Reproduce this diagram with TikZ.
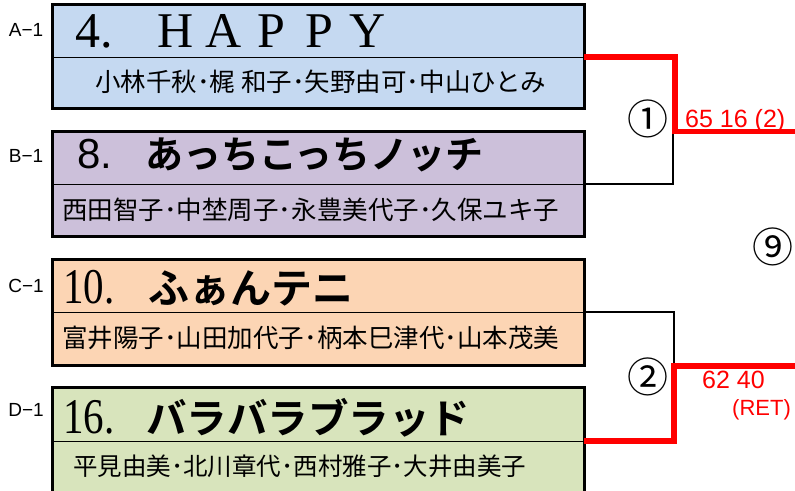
\documentclass[tikz,border=0pt]{standalone}
\usepackage{fontspec}
\setmainfont{Liberation Sans}
\newfontfamily\sansx{Liberation Sans}
\newfontfamily\jp{Noto Sans CJK JP}
\newfontfamily\jpb{Noto Sans CJK JP Bold}
\newfontfamily\serifx{Liberation Serif}
\definecolor{cA}{HTML}{C5D9F1}
\definecolor{cB}{HTML}{CCC0DA}
\definecolor{cC}{HTML}{FCD5B4}
\definecolor{cD}{HTML}{D8E4BC}
\definecolor{redx}{HTML}{FF0000}
\begin{document}
\begin{tikzpicture}[x=1pt,y=-1pt,
  half/.style={draw=black, line width=0.9pt, minimum width=532pt, inner sep=0pt, outer sep=0pt, anchor=north west},
  frame/.style={draw=black, line width=3pt},
  lbl/.style={font=\sansx\fontsize{19}{19}\selectfont, inner sep=0pt},
  names/.style={font=\jp\fontsize{25.5}{26}\selectfont, inner sep=0pt, anchor=west},
  ttl/.style={inner sep=0pt, anchor=base west},
  win/.style={draw=redx, line width=5.5pt},
  lose/.style={draw=black, line width=2pt},
  score/.style={text=redx, font=\sansx\fontsize{25}{25}\selectfont, inner sep=0pt, anchor=base west},
  circ/.style={font=\jp\fontsize{41}{41}\selectfont, inner sep=0pt}]
\useasboundingbox (0,0) rectangle (795,490);
% boxes
\node[half, fill=cA, minimum height=53pt] (Atop) at (52,4) {};
\node[half, fill=cA, minimum height=51pt] (Abot) at (52,57) {};
\node[half, fill=cB, minimum height=53pt] (Btop) at (52,131) {};
\node[half, fill=cB, minimum height=52pt] (Bbot) at (52,184) {};
\node[half, fill=cC, minimum height=53pt] (Ctop) at (52,259) {};
\node[half, fill=cC, minimum height=53pt] (Cbot) at (52,312) {};
\node[half, fill=cD, minimum height=54pt] (Dtop) at (52,387) {};
\node[half, fill=cD, minimum height=54pt] (Dbot) at (52,441) {};
\draw[frame] (Atop.north west) rectangle (Abot.south east);
\draw[frame] (Btop.north west) rectangle (Bbot.south east);
\draw[frame] (Ctop.north west) rectangle (Cbot.south east);
\draw[frame] (Dtop.north west) rectangle (Dbot.south east);
% side labels
\node[lbl] (la) at (26,30) {A−1};
\node[lbl] (lb) at (26,156) {B−1};
\node[lbl] (lc) at (26,286) {C−1};
\node[lbl] (ld) at (26,410) {D−1};
% titles
\node[ttl, font=\serifx\fontsize{50}{50}\selectfont] (ta) at (75,47)
  {4.\hspace{38.5pt}\makebox[48pt]{H}\makebox[48pt]{A}\makebox[48pt]{P}\makebox[48pt]{P}\makebox[48pt]{Y}};
\node[ttl] (tb) at (77,168)
  {\sansx\fontsize{42}{42}\selectfont 8.\hspace{33pt}{\jpb\fontsize{38}{38}\selectfont あっちこっちノッチ}};
\node[ttl] (tc) at (63,303)
  {\serifx\fontsize{50}{50}\selectfont\scalebox{0.82}[1]{10.}\hspace{34pt}{\jpb\fontsize{41}{41}\selectfont ふぁんテニ}};
\node[ttl] (td) at (63,433)
  {\serifx\fontsize{50}{50}\selectfont\scalebox{0.82}[1]{16.}\hspace{32pt}{\jpb\fontsize{40.5}{41}\selectfont バラバラブラッド}};
% names
\node[names] (na) at (95,82) {小林千秋･梶 和子･矢野由可･中山ひとみ};
\node[names] (nb) at (62,210) {西田智子･中埜周子･永豊美代子･久保ユキ子};
\node[names] (nc) at (62,338) {富井陽子･山田加代子･柄本巳津代･山本茂美};
\node[names, font=\jp\fontsize{24.5}{25}\selectfont] (nd) at (73,466) {平見由美･北川章代･西村雅子･大井由美子};
% bracket 1
\coordinate (j1) at (675,131.5);
\coordinate (o1) at (795,131.5);
\draw[lose] (Bbot.north east) -| ([xshift=-2pt]j1);
\draw[win, line join=miter] (Abot.north east) -| (j1) -- (o1);
\node[circ] (m1) at (648,119) {①};
\node[score] (s1) at (685,127) {65 16 (2)};
% bracket 2
\coordinate (j2) at (674,366);
\coordinate (o2) at (795,366);
\draw[lose] (Cbot.north east) -| ([yshift=-1pt]j2);
\draw[win, line join=miter] (Dbot.north east) -| (j2) -- (o2);
\node[circ] (m2) at (648,377) {②};
\node[score, font=\sansx\fontsize{25}{25}\selectfont] (s2) at (702,388) {62 40};
\node[score, font=\sansx\fontsize{22}{22}\selectfont] (r2) at (732,415) {(RET)};
% final
\node[circ] (m9) at (773,247) {⑨};
\end{tikzpicture}
\end{document}
